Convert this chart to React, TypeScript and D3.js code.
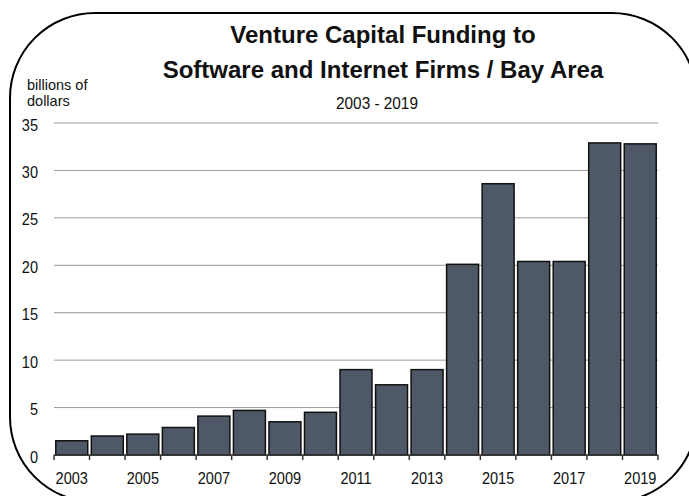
import { useEffect, useRef } from 'react';
import * as d3 from 'd3';

const years = [
  2003, 2004, 2005, 2006, 2007, 2008, 2009, 2010, 2011,
  2012, 2013, 2014, 2015, 2016, 2017, 2018, 2019,
];
const funding = [
  1.5, 2.0, 2.2, 2.9, 4.1, 4.7, 3.5, 4.5, 9.0,
  7.4, 9.0, 20.1, 28.6, 20.4, 20.4, 32.9, 32.8,
];
const yTicks = [0, 5, 10, 15, 20, 25, 30, 35];
const titleLines = ['Venture Capital Funding to', 'Software and Internet Firms / Bay Area'];
const subtitle = '2003 - 2019';
const unitLines = ['billions of', 'dollars'];

const W = 689;
const H = 496;
const FONT = 'Arial, "Liberation Sans", Helvetica, sans-serif';
const NARROW = 0.88; // labels in the original are a little condensed

export default function App() {
  const svgRef = useRef<SVGSVGElement>(null);

  useEffect(() => {
    if (!svgRef.current) return;
    const svg = d3.select(svgRef.current);
    svg.selectAll('*').remove();

    const margin = { top: 123, right: 31, bottom: 41, left: 54 };
    const innerW = W - margin.left - margin.right;
    const innerH = H - margin.top - margin.bottom;

    // frame
    svg.append('rect')
      .attr('x', 10).attr('y', 13)
      .attr('width', 687).attr('height', 489)
      .attr('rx', 85).attr('ry', 85)
      .attr('fill', 'white')
      .attr('stroke', '#000')
      .attr('stroke-width', 2);

    // titles
    svg.selectAll('text.title')
      .data(titleLines)
      .join('text')
      .attr('class', 'title')
      .attr('x', 383)
      .attr('y', (_, i) => 43 + i * 35)
      .attr('text-anchor', 'middle')
      .attr('font-family', FONT)
      .attr('font-weight', 'bold')
      .attr('font-size', 24)
      .attr('fill', '#111')
      .text(d => d);

    svg.append('g')
      .attr('transform', `translate(377,109) scale(0.93,1)`)
      .append('text')
      .attr('text-anchor', 'middle')
      .attr('font-family', FONT)
      .attr('font-size', 16.5)
      .attr('fill', '#111')
      .text(subtitle);

    svg.selectAll('text.unit')
      .data(unitLines)
      .join('text')
      .attr('class', 'unit')
      .attr('x', 27)
      .attr('y', (_, i) => 90 + i * 16)
      .attr('font-family', FONT)
      .attr('font-size', 14.5)
      .attr('fill', '#111')
      .text(d => d);

    const g = svg.append('g')
      .attr('transform', `translate(${margin.left},${margin.top})`);

    const x = d3.scaleBand<number>()
      .domain(years)
      .range([0, innerW])
      .paddingInner(0.1)
      .paddingOuter(0.05);

    const y = d3.scaleLinear()
      .domain([0, 35])
      .range([innerH, 0]);

    // gridlines
    g.selectAll('line.grid')
      .data(yTicks.filter(t => t > 0))
      .join('line')
      .attr('class', 'grid')
      .attr('x1', 0).attr('x2', innerW)
      .attr('y1', d => y(d)).attr('y2', d => y(d))
      .attr('stroke', '#999')
      .attr('stroke-width', 1);

    // y labels
    g.selectAll('g.ytick')
      .data(yTicks)
      .join('g')
      .attr('class', 'ytick')
      .attr('transform', d => `translate(-16,${y(d) + 7.5}) scale(${NARROW},1)`)
      .append('text')
      .attr('text-anchor', 'end')
      .attr('font-family', FONT)
      .attr('font-size', 16.5)
      .attr('fill', '#111')
      .text(d => d);

    // bars
    g.selectAll('rect.bar')
      .data(funding)
      .join('rect')
      .attr('class', 'bar')
      .attr('x', (_, i) => x(years[i])!)
      .attr('width', x.bandwidth())
      .attr('y', d => y(d))
      .attr('height', d => innerH - y(d))
      .attr('fill', '#4f5866')
      .attr('stroke', '#111')
      .attr('stroke-width', 1.5);

    // x axis
    const step = x.step();
    const edges = d3.range(years.length + 1).map(i => i * step);
    g.append('line')
      .attr('x1', 0).attr('x2', innerW)
      .attr('y1', innerH).attr('y2', innerH)
      .attr('stroke', '#333')
      .attr('stroke-width', 1.5);
    g.selectAll('line.xtick')
      .data(edges)
      .join('line')
      .attr('class', 'xtick')
      .attr('x1', d => d).attr('x2', d => d)
      .attr('y1', innerH).attr('y2', innerH + 5)
      .attr('stroke', '#333')
      .attr('stroke-width', 1.5);

    g.selectAll('g.xlabel')
      .data(years.filter((_, i) => i % 2 === 0))
      .join('g')
      .attr('class', 'xlabel')
      .attr('transform', d => `translate(${x(d)! + x.bandwidth() / 2},${innerH + 29}) scale(${NARROW},1)`)
      .append('text')
      .attr('text-anchor', 'middle')
      .attr('font-family', FONT)
      .attr('font-size', 16.5)
      .attr('fill', '#111')
      .text(d => d);
  }, []);

  return (
    <svg
      ref={svgRef}
      width={W}
      height={H}
      style={{ position: 'absolute', left: 0, top: 0, overflow: 'hidden' }}
    />
  );
}
